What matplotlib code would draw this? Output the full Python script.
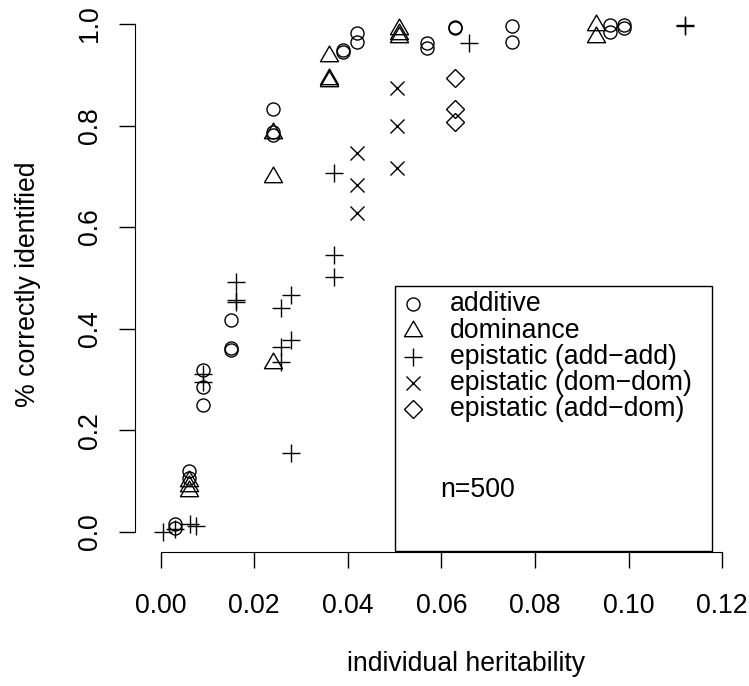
import matplotlib
matplotlib.use("Agg")
import matplotlib.pyplot as plt
from matplotlib.lines import Line2D
from matplotlib.patches import Rectangle
from matplotlib.path import Path

plt.rcParams['font.family'] = ['Liberation Sans', 'DejaVu Sans']

# ---- data ----
add_x = [0.003, 0.003, 0.006, 0.006, 0.009, 0.009, 0.009, 0.015, 0.015, 0.015,
         0.024, 0.024, 0.024, 0.039, 0.039, 0.042, 0.042, 0.057, 0.057,
         0.063, 0.063, 0.075, 0.075, 0.096, 0.096, 0.099, 0.099]
add_y = [0.016, 0.008, 0.120, 0.105, 0.319, 0.285, 0.250, 0.417, 0.362, 0.357,
         0.832, 0.787, 0.782, 0.949, 0.944, 0.982, 0.965, 0.962, 0.953,
         0.995, 0.992, 0.996, 0.965, 0.998, 0.985, 0.998, 0.992]

dom_x = [0.006, 0.006, 0.006, 0.024, 0.024, 0.024, 0.036, 0.036, 0.036,
         0.051, 0.051, 0.051, 0.093, 0.093]
dom_y = [0.100, 0.090, 0.080, 0.785, 0.699, 0.333, 0.937, 0.892, 0.888,
         0.990, 0.980, 0.975, 0.998, 0.974]

aa_x = [0.0005, 0.003, 0.0063, 0.0075, 0.009, 0.009, 0.016, 0.016, 0.016,
        0.0257, 0.0257, 0.0257, 0.0278, 0.0278, 0.0278, 0.037, 0.037, 0.037,
        0.066, 0.112, 0.112]
aa_y = [0.000, 0.005, 0.015, 0.012, 0.310, 0.295, 0.492, 0.457, 0.452,
        0.441, 0.364, 0.335, 0.467, 0.377, 0.155, 0.707, 0.545, 0.502,
        0.962, 0.998, 0.997]

dd_x = [0.042, 0.042, 0.042, 0.0505, 0.0505, 0.0505]
dd_y = [0.745, 0.683, 0.628, 0.874, 0.800, 0.717]

ad_x = [0.063, 0.063, 0.063]
ad_y = [0.893, 0.832, 0.807]

legend_labels = ["additive", "dominance", "epistatic (add\u2212add)",
                 "epistatic (dom\u2212dom)", "epistatic (add\u2212dom)"]
note = "n=500"
xticks = [0.00, 0.02, 0.04, 0.06, 0.08, 0.10, 0.12]
yticks = [0.0, 0.2, 0.4, 0.6, 0.8, 1.0]

# ---- figure ----
W, H = 749, 686
FS = 19.2
fig = plt.figure(figsize=(W / 100, H / 100), dpi=100)

def fx(px):
    return px / W

def fy(py):
    return 1 - py / H

left, right, top, bottom = 135, 811, 3.7, 552
ax = fig.add_axes([fx(left), fy(bottom), (right - left) / W, (bottom - top) / H])
ax.set_xlim(-0.0055, 0.1390)
ax.set_ylim(-0.04, 1.04)

tri = Path([(-1, -0.577), (1, -0.577), (0, 1.155), (-1, -0.577)],
           [Path.MOVETO, Path.LINETO, Path.LINETO, Path.CLOSEPOLY])

styles = [
    dict(marker='o', ms=9.4),
    dict(marker=tri, ms=15),
    dict(marker='+', ms=13),
    dict(marker='x', ms=9.5),
    dict(marker='D', ms=9),
]
series = [(add_x, add_y), (dom_x, dom_y), (aa_x, aa_y), (dd_x, dd_y), (ad_x, ad_y)]
for (xs, ys), st in zip(series, styles):
    ax.plot(xs, ys, linestyle='none', mfc='none', mec='black', mew=1.0,
            clip_on=False, **st)

for s in ['top', 'right']:
    ax.spines[s].set_visible(False)
ax.spines['left'].set_bounds(0, 1)
ax.spines['bottom'].set_bounds(0, 0.12)
ax.set_xticks(xticks)
ax.set_xticklabels([f"{v:.2f}" for v in xticks])
ax.set_yticks(yticks)
ax.set_yticklabels([f"{v:.1f}" for v in yticks])
ax.tick_params(axis='both', length=11.5, width=1.0, labelsize=FS, direction='out')
ax.tick_params(axis='x', pad=18)
ax.tick_params(axis='y', pad=11.5, labelrotation=90)
for lab in ax.get_yticklabels():
    lab.set_va('center')

fig.text(fx(466), fy(664), "individual heritability", ha='center', va='center', fontsize=FS)
fig.text(fx(28), fy(284), "% correctly identified", ha='center', va='center',
         rotation=90, fontsize=FS)

# ---- legend box ----
bx0, by0, bx1, by1 = 395, 286, 712, 551
fig.add_artist(Rectangle((fx(bx0), fy(by1)), (bx1 - bx0) / W, (by1 - by0) / H,
                         transform=fig.transFigure, fill=False, ec='black', lw=1.0))
rows = [304, 331, 357, 383, 409]
for r, lab, st in zip(rows, legend_labels, styles):
    fig.add_artist(Line2D([fx(413)], [fy(r)], transform=fig.transFigure,
                          linestyle='none', mfc='none', mec='black', mew=1.0, **st))
    fig.text(fx(450), fy(r), lab, ha='left', va='center', fontsize=FS)
fig.text(fx(440), fy(490), note, ha='left', va='center', fontsize=FS)

fig.savefig("out.png", dpi=100)
